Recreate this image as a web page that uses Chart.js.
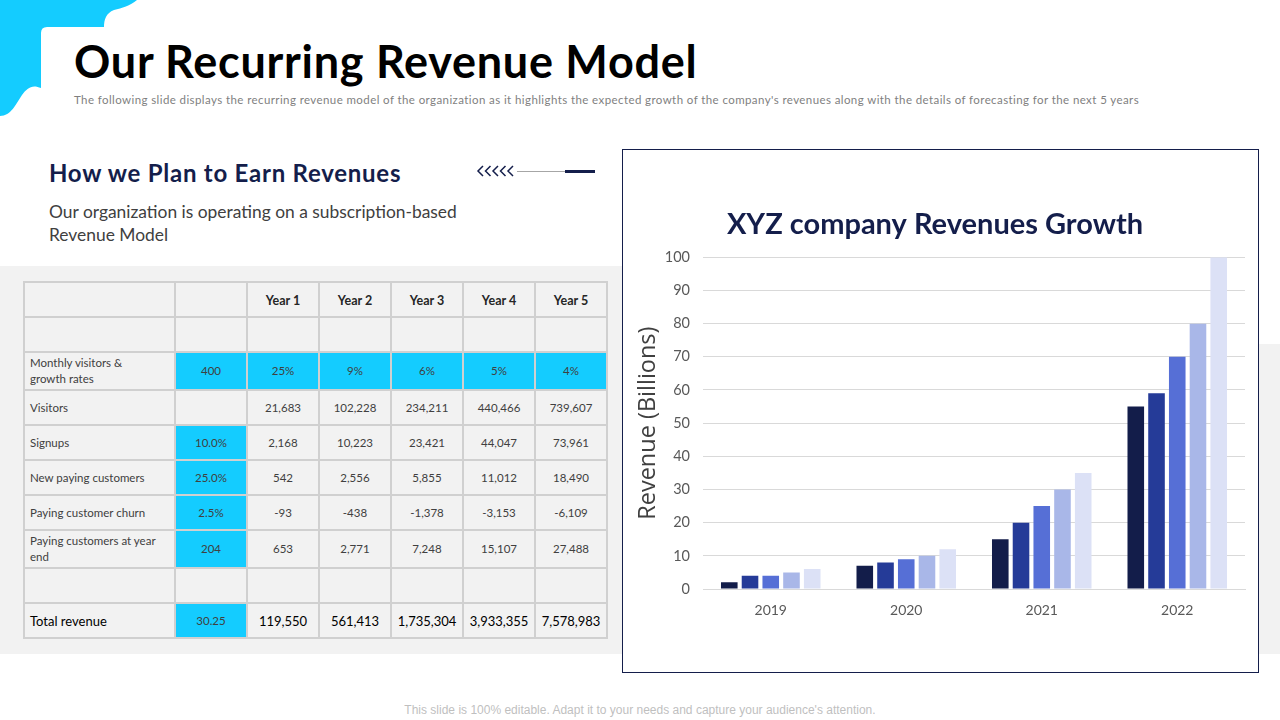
<!DOCTYPE html>
<html>
<head>
<meta charset="utf-8">
<title>Our Recurring Revenue Model</title>
<script src="https://cdn.jsdelivr.net/npm/chart.js@4"></script>
<style>
html,body{margin:0;padding:0;background:#fff;}
#slide{position:relative;width:1280px;height:720px;overflow:hidden;font-family:"Lato",sans-serif;}
#slide>*{position:absolute;}
.nowrap{white-space:nowrap;}
#title{left:74px;top:33px;font:700 45px/56px "Lato",sans-serif;letter-spacing:.72px;color:#000;}
#sub{left:74px;top:92px;font:400 11.5px/16px "Lato",sans-serif;letter-spacing:.41px;color:#7f7f7f;}
#head2{left:49px;top:157px;font:700 24px/32px "Lato",sans-serif;letter-spacing:.75px;color:#141e4b;}
#desc{left:49px;top:200px;width:440px;font:400 17.4px/23px "Lato",sans-serif;color:#404040;}
#foot{left:0;width:1280px;top:702px;text-align:center;font:400 12px/16px "Liberation Sans",sans-serif;color:#bfbfbf;}
#band1{left:0;top:266px;width:622px;height:388px;background:#f2f2f2;}
#band2{left:1259px;top:344px;width:21px;height:310px;background:#f2f2f2;}
#box{left:622px;top:149px;width:635px;height:522px;border:1px solid #141e4b;background:#fff;}
#tbl{left:23px;top:281px;border-collapse:collapse;table-layout:fixed;width:583px;font:400 11.5px/16px "Lato",sans-serif;color:#404040;}
#tbl td{border:2px solid #d0d0d0;padding:0;text-align:center;overflow:hidden;}
#tbl td.lab{text-align:left;padding-left:5px;}
#tbl td.hi{background:#14ccff;}
#tbl tr.yr td{font-weight:700;font-size:12.5px;color:#262626;padding-top:2px;}
#tbl tr.tot td{font-size:13px;color:#000;}
#tbl tr.tot td.hi{font-size:11.5px;color:#404040;}
#wrap{left:625px;top:150px;width:633px;height:522px;}
</style>
</head>
<body>
<div id="slide">
  <svg style="left:0;top:0" width="150" height="120">
    <path d="M0 0H137C130 6 122 8 114 10C106 13 104 20 104 27H47Q41 27 41 33V88C32 84 27 88 22 95C16 104 11 116 0 116Z" fill="#14ccff"/>
  </svg>
  <div id="band1"></div>
  <div id="band2"></div>
  <div id="title" class="nowrap">Our Recurring Revenue Model</div>
  <div id="sub" class="nowrap">The following slide displays the recurring revenue model of the organization as it highlights the expected growth of the company's revenues along with the details of forecasting for the next 5 years</div>
  <div id="head2" class="nowrap">How we Plan to Earn Revenues</div>
  <div id="desc">Our organization is operating on a subscription-based Revenue Model</div>
  <svg style="left:470px;top:160px" width="130" height="24">
    <g fill="none" stroke="#141e4b" stroke-width="1.5">
      <path d="M13 6L8 11L13 16M20.500 6L15.500 11L20.500 16M28 6L23 11L28 16M35.500 6L30.500 11L35.500 16M43 6L38 11L43 16"/>
    </g>
    <path d="M47 11.500H96" stroke="#a6a6a6" stroke-width="1"/>
    <path d="M95 11.500H125" stroke="#141e4b" stroke-width="3"/>
  </svg>
  <table id="tbl"></table>
  <div id="box"></div>
  <div id="wrap"><canvas id="revChart"></canvas></div>
  <div id="foot">This slide is 100% editable. Adapt it to your needs and capture your audience's attention.</div>
</div>
<script>
// chart data
var years = ["2019","2020","2021","2022"];
var series1 = [2,7,15,55];
var series2 = [4,8,20,59];
var series3 = [4,9,25,70];
var series4 = [5,10,30,80];
var series5 = [6,12,35,100];
var seriesNames = ["Series 1","Series 2","Series 3","Series 4","Series 5"];

// table data
var yearHeads = ["","","Year 1","Year 2","Year 3","Year 4","Year 5"];
var blankRow = ["","","","","","",""];
var growthRow = ["Monthly visitors &<br>growth rates","400","25%","9%","6%","5%","4%"];
var visitorsRow = ["Visitors","","21,683","102,228","234,211","440,466","739,607"];
var signupsRow = ["Signups","10.0%","2,168","10,223","23,421","44,047","73,961"];
var newPayRow = ["New paying customers","25.0%","542","2,556","5,855","11,012","18,490"];
var churnRow = ["Paying customer churn","2.5%","-93","-438","-1,378","-3,153","-6,109"];
var endRow = ["Paying customers at year<br>end","204","653","2,771","7,248","15,107","27,488"];
var totalRow = ["Total revenue","30.25","119,550","561,413","1,735,304","3,933,355","7,578,983"];

var colW = [151,72,72,72,72,72,72];
var rows = [
	{cells:yearHeads,h:35,cls:"yr",hi:[]},
	{cells:blankRow,h:35,cls:"",hi:[]},
	{cells:growthRow,h:38,cls:"",hi:[1,2,3,4,5,6]},
	{cells:visitorsRow,h:35,cls:"",hi:[]},
	{cells:signupsRow,h:35,cls:"",hi:[1]},
	{cells:newPayRow,h:35,cls:"",hi:[1]},
	{cells:churnRow,h:35,cls:"",hi:[1]},
	{cells:endRow,h:38,cls:"",hi:[1]},
	{cells:blankRow,h:35,cls:"",hi:[]},
	{cells:totalRow,h:35,cls:"tot",hi:[1]}
];

var html = "<colgroup>";
for(var c = 0;c<colW.length;c++){
	html += '<col style="width:'+colW[c]+'px">';
}
html += "</colgroup>";
for(var r = 0;r<rows.length;r++){
	html += '<tr class="'+rows[r].cls+'" style="height:'+rows[r].h+'px">';
	for(var i = 0;i<7;i++){
		var cls = [];
		if(i == 0) cls.push("lab");
		if(rows[r].hi.indexOf(i) >= 0) cls.push("hi");
		html += '<td class="'+cls.join(" ")+'">'+rows[r].cells[i]+"</td>";
	}
	html += "</tr>";
}
document.getElementById("tbl").innerHTML = html;

var barColors = ["#131d4a","#253b98","#566fd6","#a9b7e8","#dce1f6"];
var allSeries = [series1,series2,series3,series4,series5];
var sets = [];
for(var s = 0;s<allSeries.length;s++){
	sets.push({
		label:seriesNames[s],
		data:allSeries[s],
		backgroundColor:barColors[s],
		categoryPercentage:0.765,
		barPercentage:0.8
	});
}

var ctx = document.getElementById("revChart").getContext("2d");
new Chart(ctx,{
	type:"bar",
	data:{labels:years,datasets:sets},
	options:{
		responsive:true,
		maintainAspectRatio:false,
		animation:false,
		layout:{padding:{top:0,right:13,bottom:22,left:0}},
		plugins:{
			legend:{display:false},
			tooltip:{enabled:false},
			title:{
				display:true,
				text:"XYZ company Revenues Growth",
				color:"#141e4b",
				font:{family:"Lato",size:29,weight:"700"},
				padding:{top:57,bottom:15.5}
			}
		},
		scales:{
			x:{
				grid:{display:false},
				border:{color:"#d9d9d9",width:1},
				ticks:{color:"#595959",font:{family:"Lato",size:14},padding:5},
				afterFit:function(scale){scale.height = 61;}
			},
			y:{
				min:0,
				max:100,
				grid:{color:"#d9d9d9",drawTicks:false},
				border:{display:false},
				ticks:{stepSize:10,color:"#595959",font:{family:"Lato",size:14.5},padding:13},
				title:{
					display:true,
					text:"Revenue (Billions)",
					color:"#404040",
					font:{family:"Open Sans",size:23.5},
					padding:{top:9,bottom:0}
				},
				afterFit:function(scale){scale.width = 78;}
			}
		}
	}
});
</script>
</body>
</html>
